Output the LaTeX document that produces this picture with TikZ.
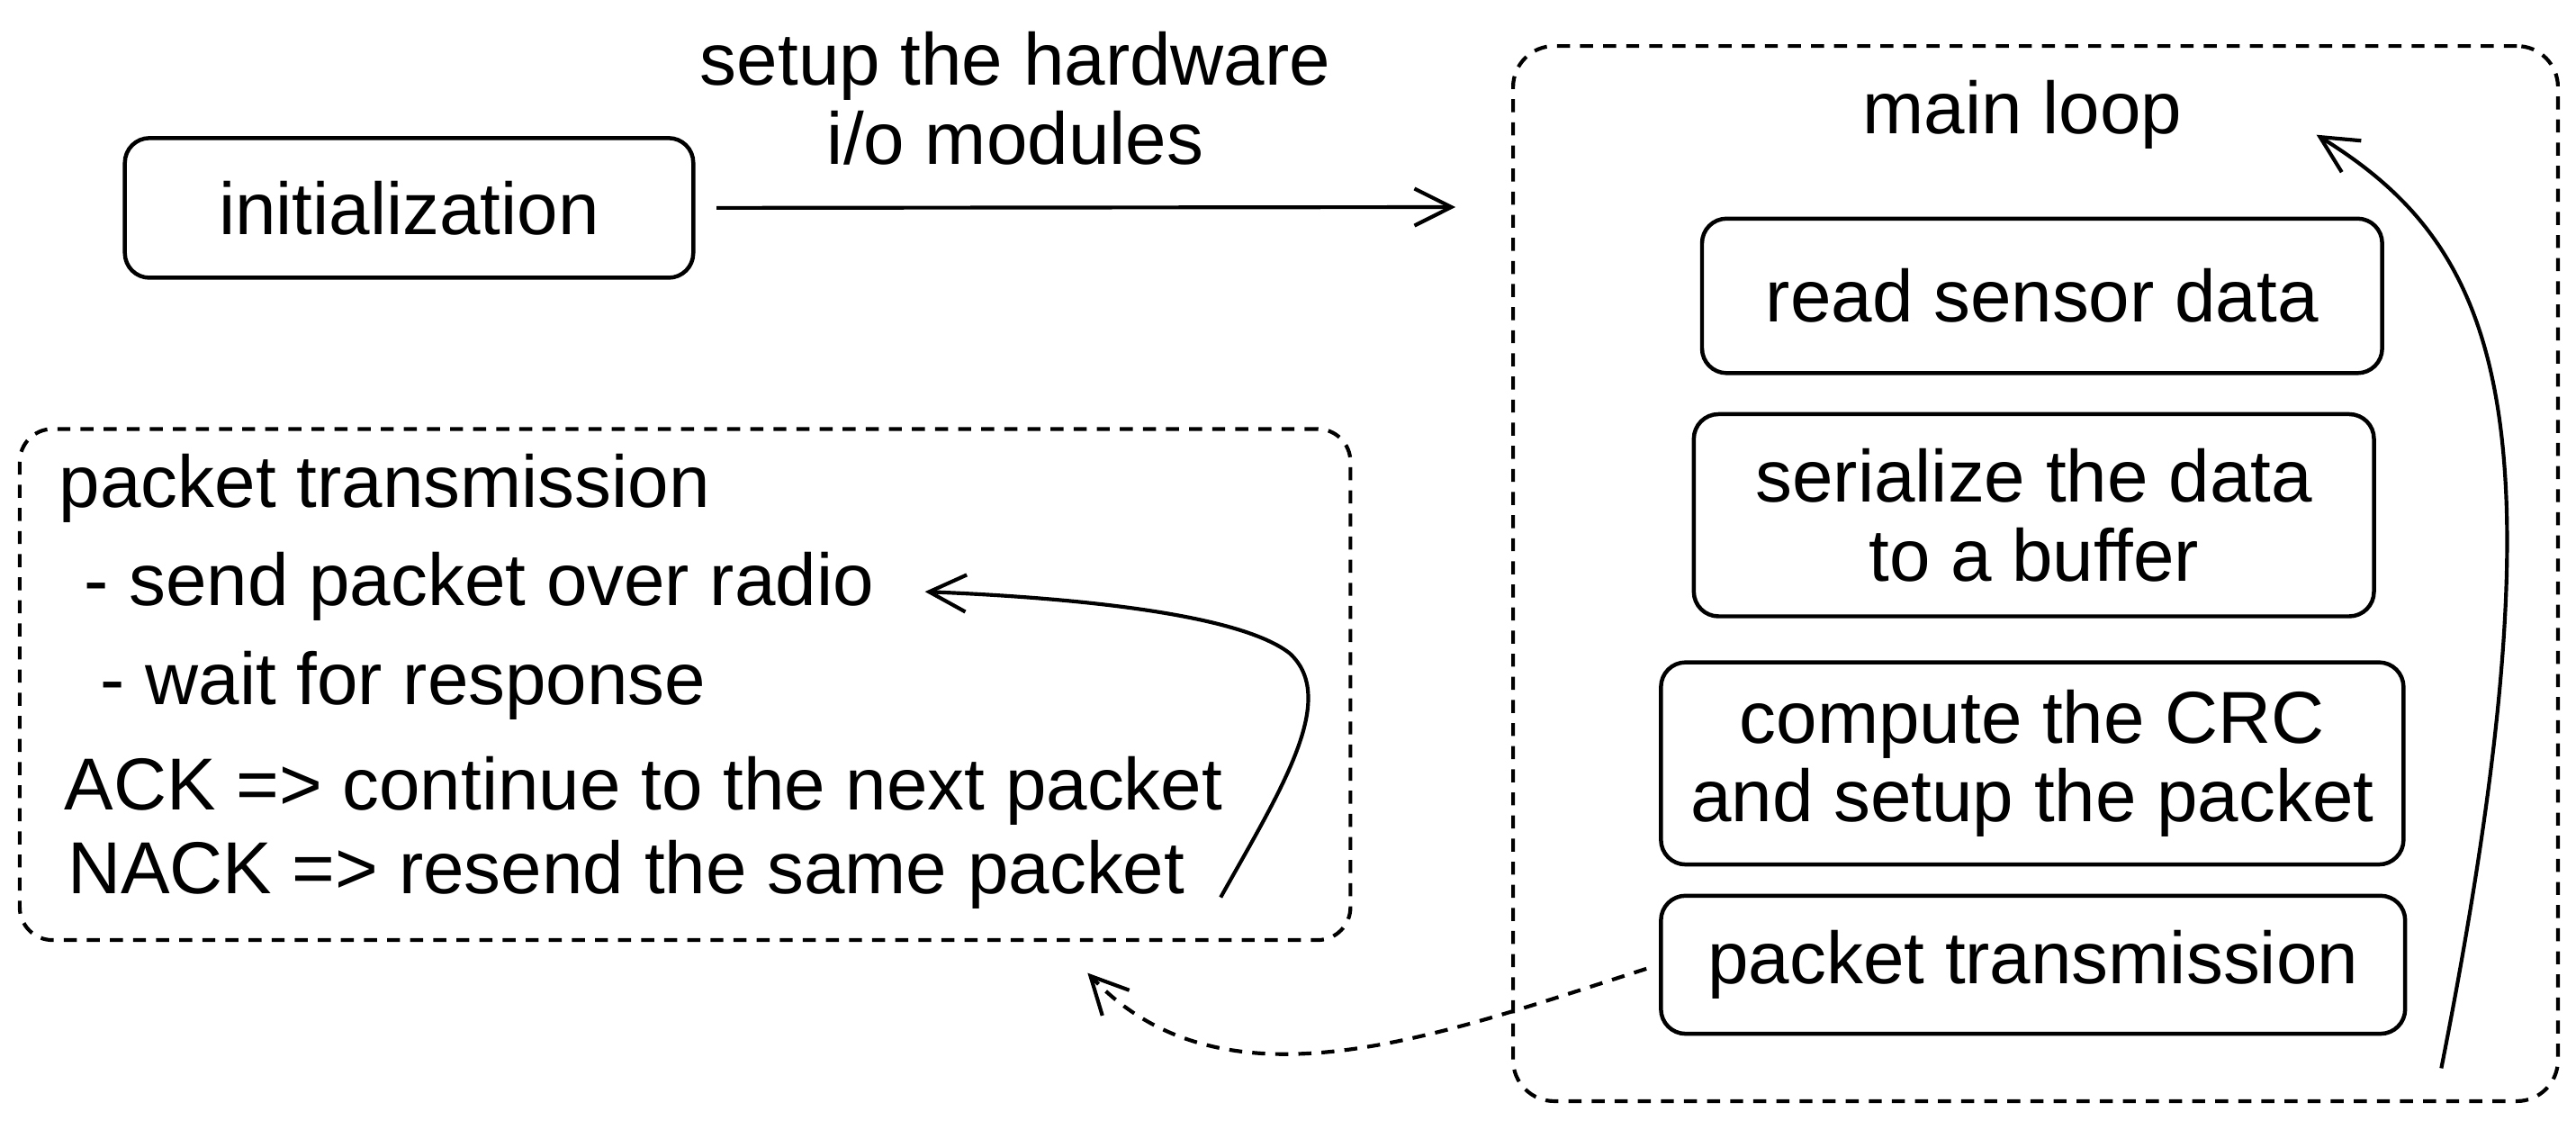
\documentclass[tikz,border=0pt]{standalone}
\usepackage{fontspec}
\setmainfont{Liberation Sans}
\usetikzlibrary{arrows.meta}
\tikzset{
    every node/.style={font=\fontsize{25.5}{27.3}\selectfont},
    stepbox/.style={draw, rounded corners=0.3cm, line width=1.4pt, align=center},
    dashline/.style={line width=1.3pt, dash pattern=on 4.5pt off 3.5pt},
    dashframe/.style={draw, dashline, rounded corners=0.4cm},
    barb/.style={-{Straight Barb[length=0.45cm, width=0.45cm, line width=1.3pt]}},
}
\begin{document}
\begin{tikzpicture}[line width=1.3pt]
    \useasboundingbox (0,0) rectangle (31.36,-13.64);
    % setup stage
    \node[stepbox, minimum width=6.92cm, minimum height=1.70cm] (init) at (4.98,-2.53) {initialization};
    \node[align=center] (hwlabel) at (12.36,-1.2) {setup the hardware\\i/o modules};
    \coordinate (hwend) at (17.72,-2.52);
    \draw[barb, shorten <=0.26cm] (init.east) -- (hwend);
    % main loop
    \node[dashframe, rounded corners=0.5cm, minimum width=12.72cm, minimum height=12.84cm] (loop) at (24.78,-6.98) {};
    \node (looplabel) at (24.62,-1.4) {main loop};
    \node[stepbox, minimum width=8.28cm, minimum height=1.88cm] (read) at (24.86,-3.6) {read sensor data};
    \node[stepbox, minimum width=8.28cm, minimum height=2.46cm] (serial) at (24.76,-6.27) {serialize the data\\to a buffer};
    \node[stepbox, minimum width=9.04cm, minimum height=2.46cm] (crc) at (24.74,-9.29) {compute the CRC\\and setup the packet};
    \node[stepbox, minimum width=9.06cm, minimum height=1.68cm] (pkt) at (24.75,-11.74) {packet transmission};
    \coordinate (loopfoot) at (29.72,-13.0);
    \coordinate (looptop) at (28.2,-1.64);
    \draw[barb] (loopfoot) .. controls (31.3,-5.0) and (30.4,-3.0) .. (looptop);
    % packet transmission details
    \node[dashframe, minimum width=16.2cm, minimum height=6.22cm] (txbox) at (8.34,-8.33) {};
    \foreach \xx/\yy/\txt [count=\i] in {0.70/297/packet transmission,
                                        1.00/357/- send packet over radio,
                                        1.20/417/- wait for response,
                                        0.76/481/ACK => continue to the next packet,
                                        0.80/532/NACK => resend the same packet} {
        \node[anchor=west, inner sep=0pt] (txline\i) at (\xx,-\yy*0.02) {\txt};
    }
    \coordinate (ackfoot) at (14.86,-10.92);
    \coordinate (radioend) at (11.26,-7.2);
    \draw[barb] (ackfoot) .. controls (15.6,-9.6) and (16.3,-8.5) .. (15.7,-7.95)
        .. controls (15.0,-7.4) and (12.5,-7.25) .. (radioend);
    \coordinate (txend) at (13.24,-11.84);
    \draw[barb, dashline, shorten <=0.16cm] (pkt.west) .. controls (17.5,-12.6) and (14.9,-13.6) .. (txend);
\end{tikzpicture}
\end{document}
